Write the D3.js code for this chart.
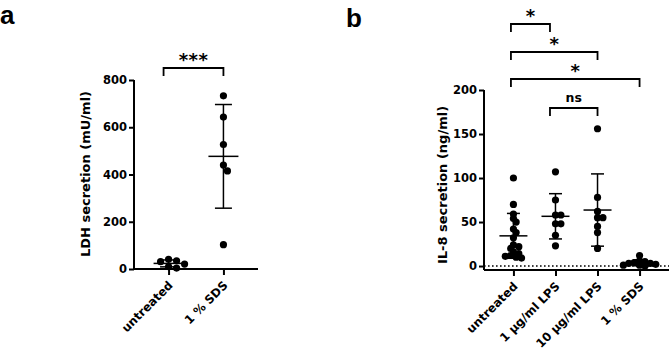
<!DOCTYPE html>
<html><head><meta charset="utf-8">
<script src="https://cdn.jsdelivr.net/npm/d3@7/dist/d3.min.js"></script>
<style>
html,body{margin:0;padding:0;background:#fff;}
svg{display:block;}
text{font-family:"DejaVu Sans",sans-serif;font-weight:bold;fill:#000;}
</style></head>
<body>
<svg id="chart" width="669" height="351"></svg>
<script>
// ---------- data ----------
const catsA = ["untreated", "1 % SDS"];
const valsA_untreated = [41, 35, 31, 21, 10, 4];
const valsA_sds = [733, 643, 527, 440, 415, 103];
const ticksA = [0, 200, 400, 600, 800];
const sigA = [{from: "untreated", to: "1 % SDS", label: "***"}];

const catsB = ["untreated", "1 µg/ml LPS", "10 µg/ml LPS", "1 % SDS"];
const valsB_untreated = [100, 70, 59, 54, 50, 42, 38, 32, 24, 22, 20, 16, 14, 12, 11, 10, 9];
const valsB_lps1 = [107, 75, 58, 58, 48, 48, 35, 23];
const valsB_lps10 = [156, 78, 62, 55, 55, 45, 38, 20];
const valsB_sds = [12, 6, 5, 4, 3, 3, 2, 1, 1, 0];
const ticksB = [0, 50, 100, 150, 200];
const sigB = [
  {from: "untreated", to: "1 µg/ml LPS", label: "*"},
  {from: "untreated", to: "10 µg/ml LPS", label: "*"},
  {from: "untreated", to: "1 % SDS", label: "*"},
  {from: "1 µg/ml LPS", to: "10 µg/ml LPS", label: "ns"}
];

const svg = d3.select("#chart");

function swarm(vals, y, r, minD, step) {
  const pts = vals.map(v => ({v, y: y(v)})).sort((a, b) => a.y - b.y);
  const placed = [];
  pts.forEach(p => {
    let k = 0, dx = 0;
    while (true) {
      const cand = k === 0 ? 0 : (k % 2 ? 1 : -1) * Math.ceil(k / 2) * step;
      if (placed.every(q => Math.hypot(q.dx - cand, q.y - p.y) >= minD)) { dx = cand; break; }
      k++;
      if (k > 40) break;
    }
    p.dx = dx; placed.push(p);
  });
  return pts;
}

function panel(opts) {
  const g = svg.append("g");
  const x = d3.scalePoint().domain(opts.cats).range([opts.x0, opts.x1]).padding(opts.pad);
  const y = d3.scaleLinear().domain(opts.ydom).range([opts.yb, opts.yt]);

  const yAxis = d3.axisLeft(y).tickValues(opts.ticks).tickSize(5).tickPadding(2);
  const ya = g.append("g").attr("transform", `translate(${opts.x0},0)`).call(yAxis);
  ya.select(".domain").attr("d", `M0,${y(opts.ticks[opts.ticks.length-1])}V${opts.axisY}`).attr("stroke-width", 2);
  ya.selectAll(".tick line").attr("stroke-width", 2);
  ya.selectAll(".tick text").style("font-size", "11.5px").style("font-family", "DejaVu Sans").style("font-weight", "bold");

  const xAxis = d3.axisBottom(x).tickSize(6).tickFormat("");
  const xa = g.append("g").attr("transform", `translate(0,${opts.axisY})`).call(xAxis);
  xa.select(".domain").attr("d", `M${opts.x0},0H${opts.x1}`).attr("stroke-width", 2);
  xa.selectAll(".tick line").attr("stroke-width", 2);

  g.selectAll(".cat").data(opts.cats).enter().append("text")
    .attr("transform", d => `translate(${x(d) + 5},${opts.axisY + 17}) rotate(-45)`)
    .attr("text-anchor", "end").style("font-size", "11.8px").text(d => d);

  if (opts.zeroLine) {
    g.append("line").attr("x1", opts.x0).attr("x2", opts.x1).attr("y1", y(0)).attr("y2", y(0))
      .attr("stroke", "#000").attr("stroke-width", 1.6).attr("stroke-dasharray", "1.6,2.4");
  }

  g.append("text").attr("transform", `translate(${opts.ylabX},${opts.ylabY}) rotate(-90)`)
    .attr("text-anchor", "middle").style("font-size", "13px").text(opts.ylab);

  opts.groups.forEach((vals, i) => {
    const cx = x(opts.cats[i]);
    const m = d3.mean(vals), sd = d3.deviation(vals);
    const pts = swarm(vals, y, 3.6, opts.minD, opts.step);
    g.selectAll(null).data(pts).enter().append("circle")
      .attr("cx", d => cx + d.dx).attr("cy", d => d.y).attr("r", 3.6).attr("fill", "#000");
    const eg = g.append("g").attr("stroke", "#000").attr("stroke-width", 1.5).attr("fill", "none");
    eg.append("line").attr("x1", cx).attr("x2", cx).attr("y1", y(m + sd)).attr("y2", y(Math.max(m - sd, opts.ydom[0])));
    eg.append("line").attr("x1", cx - opts.meanW / 2).attr("x2", cx + opts.meanW / 2).attr("y1", y(m)).attr("y2", y(m));
    eg.append("line").attr("x1", cx - opts.capW / 2).attr("x2", cx + opts.capW / 2).attr("y1", y(m + sd)).attr("y2", y(m + sd));
    if (m - sd > opts.ydom[0])
      eg.append("line").attr("x1", cx - opts.capW / 2).attr("x2", cx + opts.capW / 2).attr("y1", y(m - sd)).attr("y2", y(m - sd));
  });

  opts.sig.forEach((s, i) => {
    const yy = opts.sigY[i];
    const xa1 = x(s.from) + opts.sigNudge[i][0], xb1 = x(s.to) + opts.sigNudge[i][1];
    g.append("path").attr("d", `M${xa1},${yy + 8}V${yy}H${xb1}V${yy + 8}`)
      .attr("fill", "none").attr("stroke", "#000").attr("stroke-width", 1.8);
    const isStar = s.label.indexOf("*") >= 0;
    g.append("text").attr("x", (xa1 + xb1) / 2).attr("y", isStar ? yy - 2 : yy - 6)
      .attr("text-anchor", "middle").style("font-size", isStar ? "18px" : "12.5px")
      .style("letter-spacing", isStar && s.label.length > 1 ? "0.5px" : "0px")
      .text(s.label);
  });
  return {x, y};
}

panel({
  cats: catsA, x0: 134, x1: 258, pad: 0.63,
  ydom: [0, 800], yb: 269, yt: 80, axisY: 269, ticks: ticksA,
  groups: [valsA_untreated, valsA_sds], meanW: 30, capW: 17, minD: 6.3, step: 4,
  ylab: "LDH secretion (mU/ml)", ylabX: 90, ylabY: 174,
  sig: sigA, sigY: [68], sigNudge: [[-5, 0]], zeroLine: false
});

panel({
  cats: catsB, x0: 484, x1: 669, pad: 0.70,
  ydom: [-4.5, 200], yb: 270, yt: 90, axisY: 270, ticks: ticksB,
  groups: [valsB_untreated, valsB_lps1, valsB_lps10, valsB_sds], meanW: 28, capW: 13, minD: 4.1, step: 2.7,
  ylab: "IL-8 secretion (ng/ml)", ylabX: 447, ylabY: 185,
  sig: sigB, sigY: [24, 52, 79, 108], sigNudge: [[-2.5, -5.5], [-2.5, 0], [-2.5, 0], [-5.5, 0]], zeroLine: true
});

svg.append("text").attr("x", 0).attr("y", 24).style("font-size", "26px").style("font-family", "Liberation Sans, Arial, sans-serif").text("a");
svg.append("text").attr("x", 346).attr("y", 27).style("font-size", "26px").style("font-family", "Liberation Sans, Arial, sans-serif").text("b");
</script>
</body></html>
